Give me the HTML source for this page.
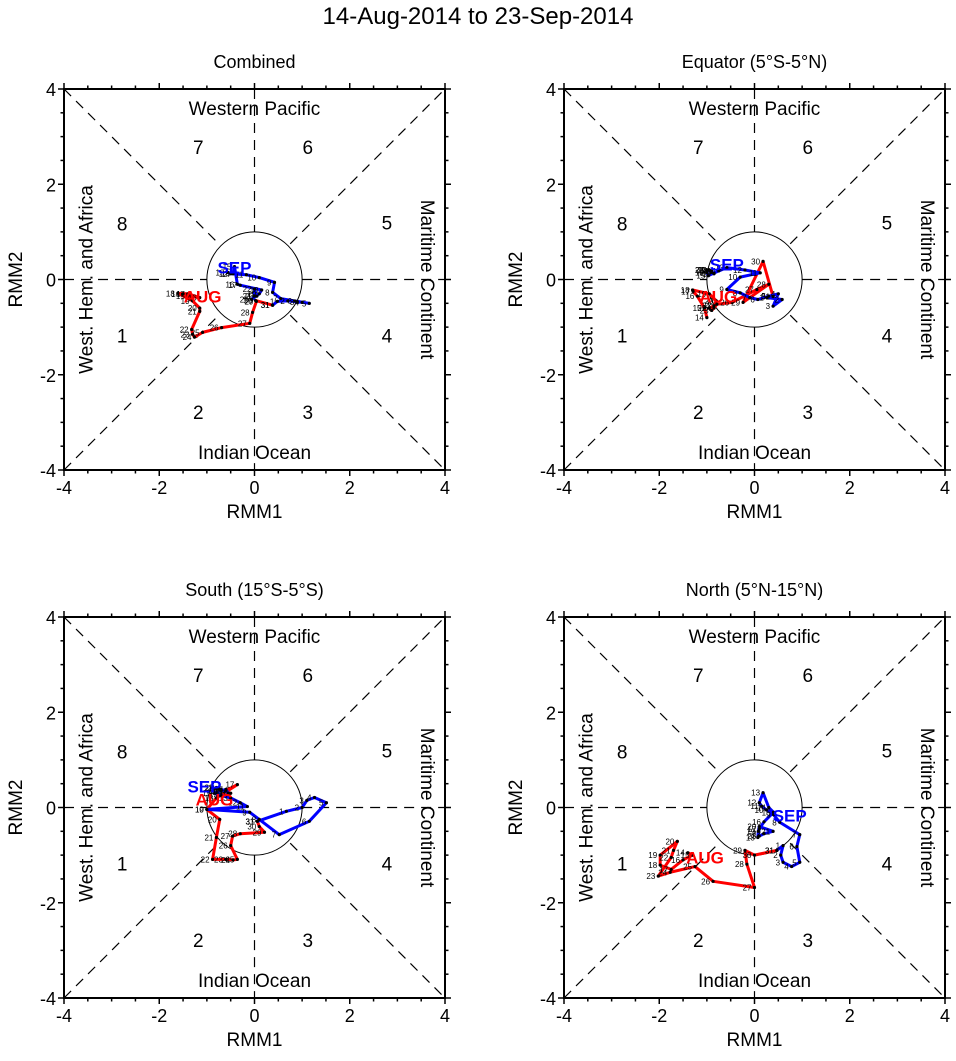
<!DOCTYPE html>
<html><head><meta charset="utf-8"><style>
html,body{margin:0;padding:0;background:#fff}
svg{display:block;font-family:"Liberation Sans",sans-serif}
</style></head><body>
<svg id="s" width="956" height="1061" viewBox="0 0 956 1061">
<text x="478" y="24" font-size="24" text-anchor="middle">14-Aug-2014 to 23-Sep-2014</text>
</svg>
<script>
// Panel trajectories (RMM1, RMM2), day labels
const augDays=[14,15,16,17,18,19,20,21,22,23,24,25,26,27,28,29,30,31];
const sepDays=[1,2,3,4,5,6,7,8,9,10,11,12,13,14,15,16,17,18,19,20,21,22,23];
const p1AugX=[-1.5,-1.4,-1.15,-1.4,-1.61,-1.3,-1.15,-1.15,-1.32,-1.3,-1.26,-1.09,-0.69,-0.1,-0.04,0.04,0.02,0.38];
const p1AugY=[-0.3,-0.35,-0.38,-0.3,-0.29,-0.45,-0.6,-0.67,-1.05,-1.15,-1.21,-1.11,-1.01,-0.92,-0.69,-0.46,-0.44,-0.54];
const p1SepX=[0.48,0.7,0.9,1.0,1.15,0.85,0.55,0.38,0.42,0.1,-0.17,-0.5,-0.57,-0.45,-0.42,-0.36,-0.3,0.15,0.1,-0.06,0,0,0.05];
const p1SepY=[-0.46,-0.45,-0.47,-0.48,-0.5,-0.45,-0.4,-0.27,-0.06,0.04,0.1,0.12,0.15,0.12,0.27,-0.1,-0.12,-0.22,-0.3,-0.42,-0.35,-0.2,-0.35];
const p2AugX=[-1.0,-1.05,-1.2,-1.29,-1.3,-0.95,-0.8,-0.85,-0.95,-0.9,-0.85,-0.79,-0.47,0.05,0.3,-0.24,0.18,0.39];
const p2AugY=[-0.8,-0.6,-0.35,-0.25,-0.22,-0.3,-0.45,-0.55,-0.6,-0.65,-0.6,-0.52,-0.48,-0.21,-0.1,-0.48,0.38,-0.36];
const p2SepX=[0.26,0.58,0.39,0.5,0.3,0.07,-0.1,-0.3,-0.58,-0.3,0.12,-0.2,-0.58,-0.75,-0.97,-1.0,-0.95,-0.9,-0.85,-0.9,-0.95,-1.0,-1.0];
const p2SepY=[-0.38,-0.42,-0.56,-0.3,-0.35,-0.42,-0.38,-0.28,-0.21,0.05,0.14,0.2,0.25,0.18,0.08,0.15,0.2,0.18,0.12,0.15,0.2,0.2,0.2];
const p3AugX=[-0.6,-0.5,-0.63,-0.36,-0.8,-1.0,-0.73,-0.8,-0.88,-0.6,-0.45,-0.36,-0.5,-0.46,-0.3,0.21,0.1,0.06];
const p3AugY=[0.25,0.3,0.34,0.48,0.2,-0.04,-0.25,-0.63,-1.09,-1.09,-1.1,-1.09,-0.8,-0.6,-0.55,-0.52,-0.4,-0.29];
const p3SepX=[0.67,1.0,1.1,1.26,1.51,1.15,0.52,0.1,-0.1,-1.0,-0.15,-0.3,-0.5,-0.7,-0.85,-0.7,-0.6,-0.55,-0.6,-0.7,-0.75,-0.8,-0.8];
const p3SepY=[-0.08,0.0,0.15,0.21,0.1,-0.29,-0.57,-0.25,-0.1,-0.04,0.02,0.1,0.2,0.25,0.3,0.35,0.38,0.3,0.35,0.38,0.4,0.42,0.4];
const p4AugX=[-1.4,-1.3,-1.5,-1.75,-1.98,-1.98,-1.62,-1.7,-1.75,-2.02,-1.77,-1.25,-0.87,0.0,-0.16,-0.2,0.0,0.47];
const p4AugY=[-0.95,-1.0,-1.1,-1.3,-1.21,-1.0,-0.71,-0.9,-1.05,-1.44,-1.36,-1.24,-1.55,-1.68,-1.19,-0.9,-1.0,-0.9];
const p4SepX=[0.6,0.55,0.6,0.78,0.95,0.89,0.95,0.53,0.4,0.25,0.15,0.1,0.18,0.3,0.4,0.2,0.1,0.07,0.08,0.1,0.39,0.2,0.1];
const p4SepY=[-0.8,-1.0,-1.15,-1.24,-1.15,-0.82,-0.57,-0.31,-0.15,-0.05,0.03,0.1,0.31,0.0,-0.1,-0.3,-0.45,-0.63,-0.5,-0.4,-0.5,-0.55,-0.6];
// month label anchor points (RMM1, RMM2)
const augLabelX=[-1.09,-0.76,-0.84,-1.04];
const augLabelY=[-0.36,-0.36,0.17,-1.05];
const sepLabelX=[-0.42,-0.58,-1.05,0.74];
const sepLabelY=[0.25,0.31,0.44,-0.17];

const panels=[
 {name:'combined',title:'Combined',ox:64,oy:89,ax:p1AugX,ay:p1AugY,sx:p1SepX,sy:p1SepY},
 {name:'equator',title:'Equator (5°S-5°N)',ox:564,oy:89,ax:p2AugX,ay:p2AugY,sx:p2SepX,sy:p2SepY},
 {name:'south',title:'South (15°S-5°S)',ox:64,oy:617,ax:p3AugX,ay:p3AugY,sx:p3SepX,sy:p3SepY},
 {name:'north',title:'North (5°N-15°N)',ox:564,oy:617,ax:p4AugX,ay:p4AugY,sx:p4SepX,sy:p4SepY}
];
const S=381/8;
const svg=document.getElementById('s');
const NS='http://www.w3.org/2000/svg';
function mk(tag,attrs,parent,text){const e=document.createElementNS(NS,tag);for(const k in attrs)e.setAttribute(k,attrs[k]);if(text!==undefined)e.textContent=text;parent.appendChild(e);return e;}
panels.forEach((p,pi)=>{
 const g=mk('g',{},svg);
 
 
 const X=v=>p.ox+(v+4)*S, Y=v=>p.oy+(4-v)*S;
 const t=mk('text',{x:X(0),y:p.oy-21,'font-size':18,'text-anchor':'middle'},g,p.title);
 
 
 const dash={stroke:'#000','stroke-width':1.2,'stroke-dasharray':'10,7',fill:'none'};
 [[X(-4),Y(4),X(-0.75),Y(0.75)],[X(0.75),Y(-0.75),X(4),Y(-4)],[X(-4),Y(-4),X(-0.75),Y(-0.75)],[X(0.75),Y(0.75),X(4),Y(4)],
  [X(-4),Y(0),X(-1),Y(0)],[X(1),Y(0),X(4),Y(0)],[X(0),Y(4),X(0),Y(1)],[X(0),Y(-1),X(0),Y(-4)]].forEach(l=>{
   const e=mk('line',Object.assign({x1:l[0],y1:l[1],x2:l[2],y2:l[3]},dash),g);
   
   
 });
 const c=mk('circle',{cx:X(0),cy:Y(0),r:S,fill:'none',stroke:'#000','stroke-width':1},g);
 
 
 const ph=[['1',-2.78,-1.18],['2',-1.18,-2.78],['3',1.12,-2.78],['4',2.78,-1.18],['5',2.78,1.2],['6',1.12,2.78],['7',-1.18,2.78],['8',-2.78,1.18]];
 ph.forEach(a=>{const e=mk('text',{x:X(a[1]),y:Y(a[2])+7,'font-size':19,'text-anchor':'middle'},g,a[0]);
  
  });
 let e=mk('text',{x:X(0),y:Y(3.6)+7,'font-size':19,'text-anchor':'middle'},g,'Western Pacific');
 
 e=mk('text',{x:X(0),y:Y(-3.62)+7,'font-size':19,'text-anchor':'middle'},g,'Indian Ocean');
 
 e=mk('text',{x:0,y:0,'font-size':19,'text-anchor':'middle',transform:`translate(${X(-3.4)},${Y(0)}) rotate(-90)`},g,'West. Hem. and Africa');
 
 e=mk('text',{x:0,y:0,'font-size':19,'text-anchor':'middle',transform:`translate(${X(3.5)},${Y(0)}) rotate(90)`},g,'Maritime Continent');
 
 function series(xs,ys,days,col,nm){
  const pts=xs.map((v,i)=>X(v)+','+Y(ys[i])).join(' ');
  const pl=mk('polyline',{points:pts,fill:'none',stroke:col,'stroke-width':3,'stroke-linejoin':'round'},g);
  
  
  xs.forEach((v,i)=>{
   const d=mk('circle',{cx:X(v),cy:Y(ys[i]),r:1.6,fill:'#000'},g);
   
   
   const tx=mk('text',{x:X(v)-3,y:Y(ys[i])+3,'font-size':8,'text-anchor':'end'},g,String(days[i]));
   
   
  });
 }
 series(p.ax,p.ay,augDays,'#f00','aug');
 series([p.ax[p.ax.length-1]].concat(p.sx),[p.ay[p.ay.length-1]].concat(p.sy),[31].concat(sepDays),'#00f','sep');
 const al=mk('text',{x:X(augLabelX[pi]),y:Y(augLabelY[pi])+6,'font-size':17,'font-weight':'bold',fill:'#f00','text-anchor':'middle'},g,'AUG');
 
 
 const sl=mk('text',{x:X(sepLabelX[pi]),y:Y(sepLabelY[pi])+6,'font-size':17,'font-weight':'bold',fill:'#00f','text-anchor':'middle'},g,'SEP');
 
 
 const f=mk('rect',{x:X(-4),y:Y(4),width:8*S,height:8*S,fill:'none',stroke:'#000','stroke-width':2},g);
 
 
 for(let v=-4;v<=4.001;v+=0.5){
  const maj=Math.abs(v%2)<1e-6, L=maj?6:3.5;
  mk('line',{x1:X(v),y1:Y(-4),x2:X(v),y2:Y(-4)+L,stroke:'#000','stroke-width':1.5},g);
  mk('line',{x1:X(v),y1:Y(4),x2:X(v),y2:Y(4)-L,stroke:'#000','stroke-width':1.5},g);
  mk('line',{x1:X(-4),y1:Y(v),x2:X(-4)-L,y2:Y(v),stroke:'#000','stroke-width':1.5},g);
  mk('line',{x1:X(4),y1:Y(v),x2:X(4)+L,y2:Y(v),stroke:'#000','stroke-width':1.5},g);
  if(maj){
   const a=mk('text',{x:X(v),y:Y(-4)+24,'font-size':18,'text-anchor':'middle'},g,String(v));
   
   const b=mk('text',{x:X(-4)-8,y:Y(v)+7,'font-size':18,'text-anchor':'end'},g,String(v));
   
  }
 }
 e=mk('text',{x:X(0),y:Y(-4)+48,'font-size':19,'text-anchor':'middle'},g,'RMM1');
 
 e=mk('text',{x:0,y:0,'font-size':19,'text-anchor':'middle',transform:`translate(${X(-4)-42},${Y(0)}) rotate(-90)`},g,'RMM2');
 
});
</script>
</body></html>
